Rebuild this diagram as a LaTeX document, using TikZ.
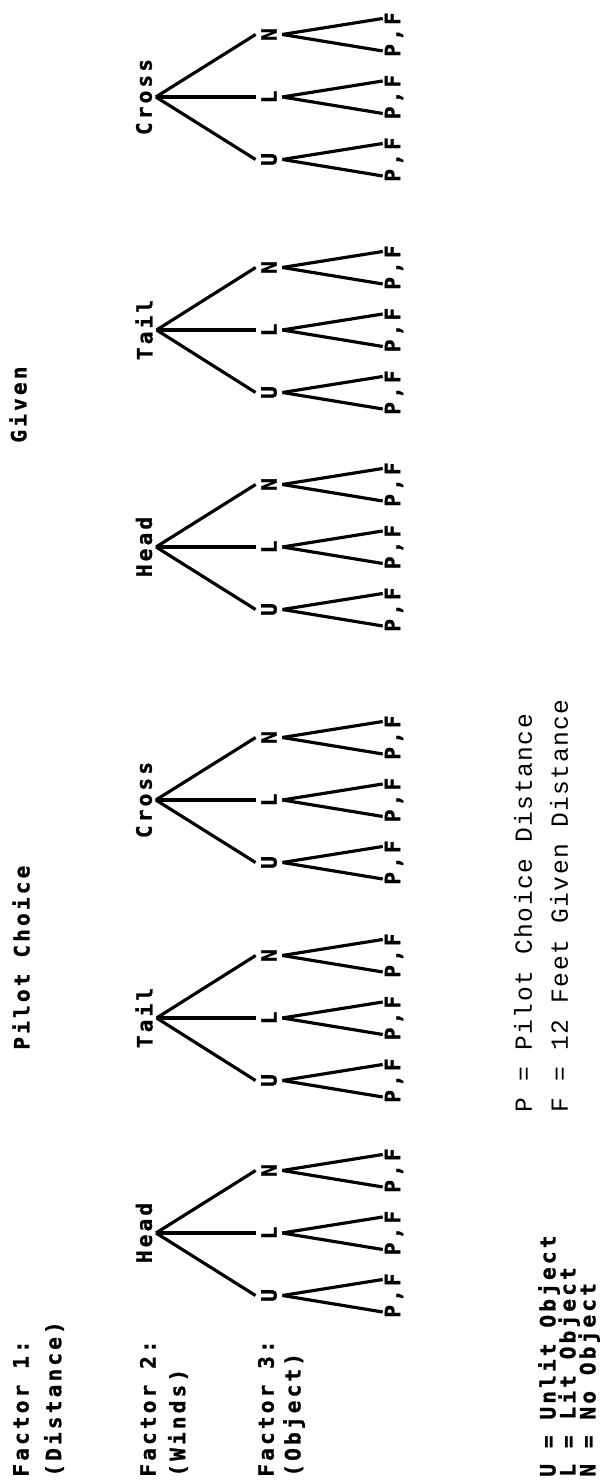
\documentclass[tikz,border=0pt]{standalone}
\usepackage{fontspec}
\usepackage{tikz}
\usetikzlibrary{positioning}
\newfontfamily\dotfont{DejaVu Sans Mono}[LetterSpace=15, FakeBold=1.2]
\newfontfamily\typefont{Liberation Mono}[LetterSpace=6]
\tikzstyle{capNode} = [rotate=90, anchor=west, inner sep=0pt, font=\dotfont\bfseries\fontsize{12}{14}\selectfont]
\tikzstyle{keyNode} = [rotate=90, anchor=west, inner sep=0pt, font=\typefont\fontsize{14}{16}\selectfont]
\tikzstyle{windNode} = [rotate=90, inner sep=2pt, font=\dotfont\bfseries\fontsize{12}{14}\selectfont]
\tikzstyle{objNode} = [windNode, inner sep=3pt]
\tikzstyle{leafNode} = [windNode, inner sep=1pt]
\tikzstyle{branch} = [line width=1.8pt, draw=black]
\begin{document}
\begin{tikzpicture}[node distance=2.5cm]
    \useasboundingbox (0,0) rectangle (12.02,29.6);
    \node (f1) [capNode] at (0.42,0.06) {Factor 1:};
    \node (f1b) [capNode] at (1.08,0.06) {(Distance)};
    \node (f2) [capNode] at (2.96,0.06) {Factor 2:};
    \node (f2b) [capNode] at (3.56,0.06) {(Winds)};
    \node (f3) [capNode] at (5.32,0.06) {Factor 3:};
    \node (f3b) [capNode] at (5.88,0.06) {(Object)};
    \node (pilot) [capNode] at (0.42,8.6) {Pilot Choice};
    \node (given) [capNode] at (0.36,20.74) {Given};
    
    % winds -> object -> distance
    \foreach \g/\w/\y in {hp/Head/4.94, tp/Tail/9.24, cp/Cross/13.60, hg/Head/18.66, tg/Tail/23.00, cg/Cross/27.66} {
        \node (\g) [windNode] at (2.88,\y) {\w};
        \foreach \o/\s in {U/-1.25cm, L/0cm, N/1.25cm} {
            \node (\g\o) [objNode, below of=\g, xshift=\s] {\o};
            \node (\g\o pf) [leafNode, below of=\g\o] {P,F};
            \draw [branch] (\g.south) -- (\g\o.north);
            \draw [branch] (\g\o.south) -- ([yshift=-0.33cm]\g\o pf.north);
            \draw [branch] (\g\o.south) -- ([yshift=0.32cm]\g\o pf.north);
        }
    }
    
    \node (kU) [capNode] at (10.98,0.06) {U = Unlit Object};
    \node (kL) [capNode] at (11.38,0.06) {L = Lit Object};
    \node (kN) [capNode] at (11.78,0.06) {N = No Object};
    \node (kP) [keyNode] at (10.46,7.34) {P = Pilot Choice Distance};
    \node (kF) [keyNode] at (11.18,7.34) {F = 12 Feet Given Distance};
\end{tikzpicture}
\end{document}
